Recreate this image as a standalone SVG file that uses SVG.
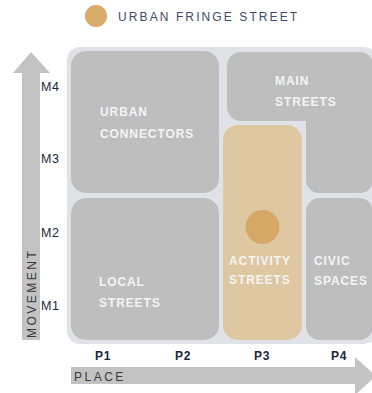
<svg xmlns="http://www.w3.org/2000/svg" width="372" height="393" viewBox="0 0 372 393">
<style>
.box{fill:#bebebe}
.lbl{font-family:"Liberation Sans",Arial,sans-serif;font-size:12px;font-weight:bold;fill:#f4f4f4;letter-spacing:0.9px}
.ax{font-family:"Liberation Sans",Arial,sans-serif;font-size:12px;font-weight:bold;fill:#22263a;letter-spacing:0.6px}
.axm{font-family:"Liberation Sans",Arial,sans-serif;font-size:12.5px;fill:#22263a;letter-spacing:0.6px}
.axt{font-family:"Liberation Sans",Arial,sans-serif;font-size:12px;fill:#3a3a3a;letter-spacing:2.5px}
.arrow{fill:#c3c3c3}
</style>
<rect width="372" height="393" fill="#ffffff"/>
<g id="legend">
<circle cx="96" cy="16" r="11" fill="#d8ab6a"/>
<text x="118" y="21" font-family="Liberation Sans, Arial, sans-serif" font-size="12" fill="#3d4b66" letter-spacing="2.1">URBAN FRINGE STREET</text>
</g>
<g id="axes">
<path class="arrow" d="M22 340 V73 H13 L31 52 L50 73 H40 V340 Z"/>
<text class="axt" transform="translate(36 338) rotate(-90)">MOVEMENT</text>
<path class="arrow" d="M71 367 H355 V357 L376 376 L355 395 V384 H71 Z"/>
<text class="axt" x="74" y="381">PLACE</text>
<text class="axm" x="41" y="91">M4</text>
<text class="axm" x="41" y="163">M3</text>
<text class="axm" x="41" y="237">M2</text>
<text class="axm" x="41" y="310">M1</text>
<text class="ax" x="103" y="360" text-anchor="middle">P1</text>
<text class="ax" x="183" y="360" text-anchor="middle">P2</text>
<text class="ax" x="262" y="360" text-anchor="middle">P3</text>
<text class="ax" x="339" y="360" text-anchor="middle">P4</text>
</g>
<rect id="panel" x="67" y="47" width="310" height="297" rx="13" fill="#e0e2e7"/>
<g id="urban-connectors">
<rect class="box" x="71" y="51" width="148" height="142" rx="15"/>
<text class="lbl" x="100" y="116">URBAN</text>
<text class="lbl" x="100" y="138">CONNECTORS</text>
</g>
<g id="main-streets">
<path class="box" d="M241 52 H360 A13 13 0 0 1 373 65 V180 A13 13 0 0 1 360 193 H319 A13 13 0 0 1 306 180 V121 H241 A14 14 0 0 1 227 107 V66 A14 14 0 0 1 241 52 Z"/>
<text class="lbl" x="275" y="85">MAIN</text>
<text class="lbl" x="275" y="106">STREETS</text>
</g>
<g id="local-streets">
<rect class="box" x="71" y="198" width="148" height="142" rx="15"/>
<text class="lbl" x="99" y="286">LOCAL</text>
<text class="lbl" x="99" y="307">STREETS</text>
</g>
<g id="activity-streets">
<rect x="223" y="125" width="79" height="215" rx="15" fill="#dfc7a1"/>
<circle cx="262.5" cy="227" r="17" fill="#d5a865"/>
<text class="lbl" x="229" y="265">ACTIVITY</text>
<text class="lbl" x="229" y="284">STREETS</text>
</g>
<g id="civic-spaces">
<rect class="box" x="306" y="198" width="67" height="142" rx="14"/>
<text class="lbl" x="314" y="265">CIVIC</text>
<text class="lbl" x="314" y="285">SPACES</text>
</g>
</svg>
